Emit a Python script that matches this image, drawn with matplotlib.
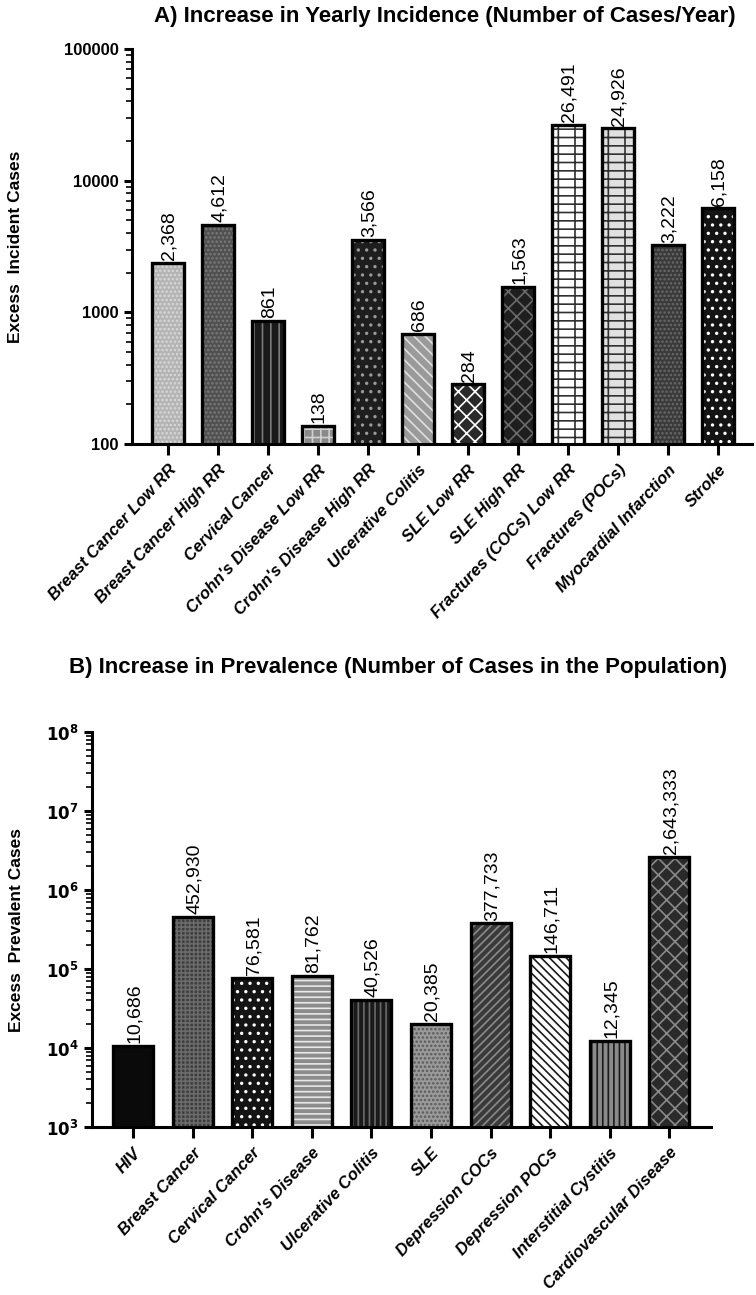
import numpy as np
import matplotlib
matplotlib.use("Agg")
import matplotlib.pyplot as plt
from matplotlib.ticker import FixedLocator, LogLocator, NullFormatter

plt.rcParams['font.family'] = ['Liberation Sans', 'DejaVu Sans']
plt.rcParams['hatch.linewidth'] = 1.2

# A) yearly incidence
inc_labels = ["Breast Cancer Low RR", "Breast Cancer High RR", "Cervical Cancer",
              "Crohn's Disease Low RR", "Crohn's Disease High RR", "Ulcerative Colitis",
              "SLE Low RR", "SLE High RR", "Fractures (COCs) Low RR", "Fractures (POCs)",
              "Myocardial Infarction", "Stroke"]
inc_values = [2368, 4612, 861, 138, 3566, 686, 284, 1563, 26491, 24926, 3222, 6158]

# B) prevalence
prev_labels = ["HIV", "Breast Cancer", "Cervical Cancer", "Crohn's Disease",
               "Ulcerative Colitis", "SLE", "Depression COCs", "Depression POCs",
               "Interstitial Cystitis", "Cardiovascular Disease"]
prev_values = [10686, 452930, 76581, 81762, 40526, 20385, 377733, 146711, 12345, 2643333]

# (facecolor, hatch, hatch colour)
inc_styles = [("#b4b4b4", "....", "#d8d8d8"),
              ("#505050", "....", "#7a7a7a"),
              ("#1a1a1a", "||", "#7a7a7a"),
              ("#8a8a8a", "++", "#d0d0d0"),
              ("#1e1e1e", "..", "#9a9a9a"),
              ("#9a9a9a", "\\\\\\", "#e0e0e0"),
              ("#2a2a2a", "xx", "#ffffff"),
              ("#1e1e1e", "xx", "#6a6a6a"),
              ("#ffffff", "-+", "#303030"),
              ("#e0e0e0", "-+", "#303030"),
              ("#3a3a3a", "....", "#6a6a6a"),
              ("#141414", "..", "#ffffff")]

prev_styles = [("#0a0a0a", "", "#0a0a0a"),
               ("#3c3c3c", "++++", "#6a6a6a"),
               ("#141414", "..", "#ffffff"),
               ("#8c8c8c", "---", "#e8e8e8"),
               ("#1a1a1a", "|||", "#6a6a6a"),
               ("#9a9a9a", "....", "#5a5a5a"),
               ("#3a3a3a", "////", "#8a8a8a"),
               ("#ffffff", "\\\\\\\\", "#1a1a1a"),
               ("#8a8a8a", "|||", "#1a1a1a"),
               ("#2a2a2a", "xx", "#8a8a8a")]


def draw_panel(ax, labels, values, styles, width):
    x = np.arange(len(labels))
    for xi, v, (fc, h, hc) in zip(x, values, styles):
        ax.bar(xi, v, width=width, color=fc, hatch=h, edgecolor=hc, linewidth=0, zorder=2)
        ax.bar(xi, v, width=width, fill=False, edgecolor="black", linewidth=2.4, zorder=3)
        ax.annotate(f"{v:,}", (xi, v), xytext=(1, 2), textcoords="offset points",
                    rotation=90, ha="center", va="bottom", fontsize=14)
    ax.set_yscale("log")
    ax.set_xticks(x)
    ax.set_xticklabels(labels, rotation=47, ha="right", rotation_mode="anchor",
                       fontsize=12, fontweight="bold", fontstyle="italic")
    for s in ["top", "right"]:
        ax.spines[s].set_visible(False)
    for s in ["left", "bottom"]:
        ax.spines[s].set_linewidth(2.2)
    ax.tick_params(axis="x", length=8, width=2.2, pad=5)
    ax.tick_params(axis="y", which="major", length=6, width=2.2, labelsize=12)
    ax.tick_params(axis="y", which="minor", length=4, width=1.2)
    ax.yaxis.set_minor_locator(LogLocator(base=10, subs=np.arange(2, 10)))
    ax.yaxis.set_minor_formatter(NullFormatter())


fig = plt.figure(figsize=(7.56, 12.95), dpi=100)

axA = fig.add_axes([0.1746, 0.6571, 0.8201, 0.3051])
draw_panel(axA, inc_labels, inc_values, inc_styles, 0.64)
axA.set_xlim(-0.72, 11.68)
axA.set_ylim(100, 100000)
ticksA = [100, 1000, 10000, 100000]
axA.yaxis.set_major_locator(FixedLocator(ticksA))
axA.set_yticklabels([str(t) for t in ticksA], fontweight="bold", fontsize=12)
axA.set_ylabel("Excess  Incident Cases", fontsize=12.5, fontweight="bold")
axA.yaxis.set_label_coords(-0.175, 0.5)
fig.text(0.589, 0.987, "A) Increase in Yearly Incidence (Number of Cases/Year)",
         ha="center", va="center", fontsize=16, fontweight="bold")

axB = fig.add_axes([0.1217, 0.1297, 0.8188, 0.305])
draw_panel(axB, prev_labels, prev_values, prev_styles, 0.67)
axB.set_xlim(-0.69, 9.70)
axB.set_ylim(1e3, 1e8)
ticksB = [1e3, 1e4, 1e5, 1e6, 1e7, 1e8]
axB.yaxis.set_major_locator(FixedLocator(ticksB))
axB.set_yticklabels([r"$\mathbf{10^{%d}}$" % int(np.log10(t)) for t in ticksB], fontsize=12)
axB.set_ylabel("Excess  Prevalent Cases", fontsize=12.5, fontweight="bold")
axB.yaxis.set_label_coords(-0.11, 0.5)
fig.text(0.527, 0.4842, "B) Increase in Prevalence (Number of Cases in the Population)",
         ha="center", va="center", fontsize=16, fontweight="bold")

fig.savefig("out.png", dpi=100)
